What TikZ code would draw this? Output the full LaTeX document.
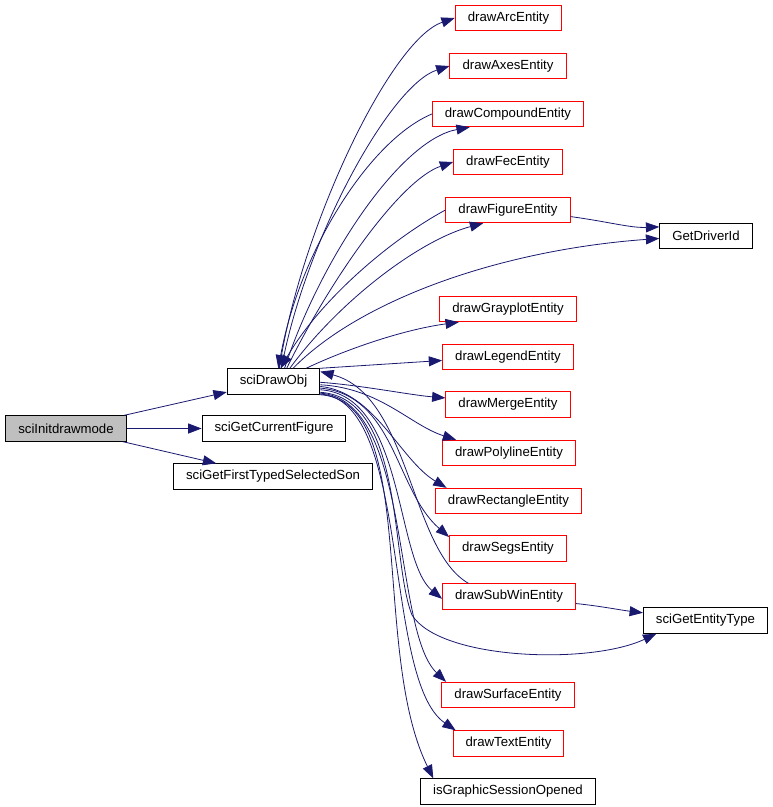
\documentclass[tikz,border=0pt]{standalone}
\usepackage{fontspec}
\setmainfont{Liberation Sans}
\usetikzlibrary{arrows.meta}
\definecolor{edgeblue}{HTML}{191970}
\definecolor{rootgray}{HTML}{BFBFBF}
\tikzset{
  fnode/.style={draw=red, line width=0.75pt, inner xsep=9.4pt, inner ysep=0pt, minimum height=19pt, font=\fontsize{9.9}{11}\selectfont},
  fnodeb/.style={fnode, draw=black},
  calls/.style={draw=edgeblue, line width=0.6pt, -{Triangle[length=10pt,width=7.5pt]}}
}
\begin{document}
\begin{tikzpicture}[x=0.75pt,y=0.75pt,yscale=-1,xscale=1]
        \useasboundingbox (0,0) rectangle (773,807);

        % Text Node
        \node [fnodeb, fill=rootgray] (init) at (66,428.5) {sciInitdrawmode};
        % Text Node
        \node [fnodeb] (drawobj) at (273.5,381.5) {sciDrawObj};
        % Text Node
        \node [fnodeb] (curfig) at (274,428.5) {sciGetCurrentFigure};
        % Text Node
        \node [fnodeb] (firstson) at (273,476.5) {sciGetFirstTypedSelectedSon};

        % Text Node
        \node [fnode] (arc) at (508.5,18) {drawArcEntity};
        % Text Node
        \node [fnode] (axes) at (508,66) {drawAxesEntity};
        % Text Node
        \node [fnode] (compound) at (508,114) {drawCompoundEntity};
        % Text Node
        \node [fnode] (fec) at (508,162) {drawFecEntity};
        % Text Node
        \node [fnode] (figure) at (508,210) {drawFigureEntity};
        % Text Node
        \node [fnodeb] (driverid) at (706,236) {GetDriverId};
        % Text Node
        \node [fnode] (grayplot) at (508,309) {drawGrayplotEntity};
        % Text Node
        \node [fnode] (legend) at (508,357) {drawLegendEntity};
        % Text Node
        \node [fnode] (merge) at (508,404.5) {drawMergeEntity};
        % Text Node
        \node [fnode] (polyline) at (509,453) {drawPolylineEntity};
        % Text Node
        \node [fnode] (rectangle) at (508.5,501) {drawRectangleEntity};
        % Text Node
        \node [fnode] (segs) at (508,548.5) {drawSegsEntity};
        % Text Node
        \node [fnode] (subwin) at (509,596.5) {drawSubWinEntity};
        % Text Node
        \node [fnodeb] (enttype) at (705.5,620.5) {sciGetEntityType};
        % Text Node
        \node [fnode] (surface) at (508,695) {drawSurfaceEntity};
        % Text Node
        \node [fnode] (text) at (508.5,743.5) {drawTextEntity};
        % Text Node
        \node [fnodeb] (session) at (508,791.5) {isGraphicSessionOpened};

        % calls of sciInitdrawmode
        \draw [calls] (init) -- (drawobj);
        \draw [calls] (init) -- (curfig);
        \draw [calls] (init) -- (firstson);

        % upper calls of sciDrawObj
        \draw [calls] (drawobj.66) .. controls (300,230) and (390,40) .. (arc.west);
        \draw [calls] (drawobj.59) .. controls (305,240) and (390,85) .. (axes.west);
        \draw [calls] (drawobj.50) .. controls (320,260) and (400,140) .. (compound.199);
        \draw [calls] (compound.west) .. controls (370,140) and (300,250) .. (drawobj.70);
        \draw [calls] (drawobj.45) .. controls (330,280) and (400,180) .. (fec.west);
        \draw [calls] (drawobj.39) .. controls (340,300) and (420,240) .. (figure.208);
        \draw [calls] (figure.west) .. controls (390,240) and (320,300) .. (drawobj.62);
        \draw [calls] (drawobj.34) .. controls (360,300) and (500,250) .. (driverid.183);
        \draw [calls] (figure.-6) .. controls (610,222) and (630,228) .. (driverid.169);

        % right and lower calls of sciDrawObj
        \draw [calls] (drawobj.22) .. controls (340,352) and (400,330) .. (grayplot.195);
        \draw [calls] (drawobj.16) -- (legend.183);
        \draw [calls] (drawobj.-1) .. controls (360,385) and (410,395) .. (merge.174);
        \draw [calls] (drawobj.-4) .. controls (380,388) and (410,425) .. (polyline.166);
        \draw [calls] (drawobj.-6) .. controls (375,392) and (400,460) .. (rectangle.168);
        \draw [calls] (drawobj.-8) .. controls (395,395) and (395,490) .. (segs.169);
        \draw [calls] (drawobj.-10) .. controls (405,395) and (395,560) .. (subwin.182);
        \draw [calls] (subwin.162) .. controls (410,550) and (410,395) .. (drawobj.12);
        \draw [calls] (drawobj.-13) .. controls (405,398) and (390,560) .. (412,615)
              .. controls (440,660) and (590,665) .. (enttype.195);
        \draw [calls] (subwin.-6) .. controls (600,606) and (620,610) .. (enttype.173);
        \draw [calls] (drawobj.-14) .. controls (412,400) and (392,630) .. (surface.168);
        \draw [calls] (drawobj.-15) .. controls (412,400) and (382,680) .. (text.166);
        \draw [calls] (drawobj.-16) .. controls (420,400) and (370,650) .. (session.170);

\end{tikzpicture}
\end{document}
